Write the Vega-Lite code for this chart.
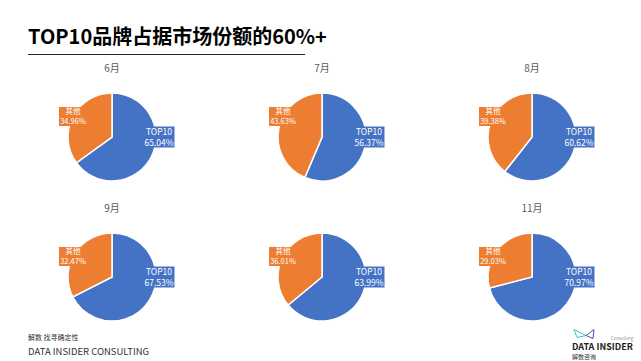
{
  "$schema": "https://vega.github.io/schema/vega-lite/v6.json",
  "background": "white",
  "padding": {"left": 28, "top": 28, "right": 0, "bottom": 0},
  "config": {
    "view": {"stroke": null},
    "font": "Noto Sans CJK SC"
  },
  "spacing": 9,
  "vconcat": [
    {
      "width": 277,
      "height": 1,
      "view": {"fill": "#262626", "stroke": null},
      "title": {
        "text": "TOP10品牌占据市场份额的60%+",
        "anchor": "start",
        "fontSize": 20,
        "fontWeight": "bold",
        "color": "#000000",
        "baseline": "alphabetic",
        "offset": -10,
        "font": "Noto Sans CJK SC"
      },
      "data": {"values": []},
      "mark": {"type": "rule"},
      "encoding": {}
    },
    {
      "spacing": 0,
      "vconcat": [
        {
          "data": {
            "values": [
              {"month": "6月", "name": "TOP10", "share": 0.6504},
              {"month": "6月", "name": "其他", "share": 0.3496},
              {"month": "7月", "name": "TOP10", "share": 0.5637},
              {"month": "7月", "name": "其他", "share": 0.4363},
              {"month": "8月", "name": "TOP10", "share": 0.6062},
              {"month": "8月", "name": "其他", "share": 0.3938},
              {"month": "9月", "name": "TOP10", "share": 0.6753},
              {"month": "9月", "name": "其他", "share": 0.3247},
              {"month": "10月", "name": "TOP10", "share": 0.6399},
              {"month": "10月", "name": "其他", "share": 0.3601},
              {"month": "11月", "name": "TOP10", "share": 0.7097},
              {"month": "11月", "name": "其他", "share": 0.2903}
            ]
          },
          "columns": 3,
          "spacing": {"column": 42, "row": 17},
          "facet": {
            "field": "month",
            "type": "nominal",
            "sort": ["6月", "7月", "8月", "9月", "10月", "11月"],
            "header": {
              "title": null,
              "labelFontSize": 10,
              "labelColor": "#595959",
              "labelPadding": 13,
              "labelExpr": "datum.value == '10月' ? '' : datum.value"
            }
          },
          "spec": {
            "width": 168,
            "height": 100,
            "layer": [
              {
                "mark": {"type": "arc", "outerRadius": 44, "stroke": "#ffffff", "strokeWidth": 1.5},
                "encoding": {
                  "theta": {"field": "share", "type": "quantitative", "stack": true},
                  "color": {
                    "field": "name",
                    "type": "nominal",
                    "scale": {"domain": ["TOP10", "其他"], "range": ["#4472C4", "#ED7D31"]},
                    "legend": null
                  },
                  "order": {"field": "name", "sort": "ascending"}
                }
              },
              {
                "mark": {"type": "point", "filled": true, "opacity": 1, "size": 4, "strokeWidth": 0},
                "encoding": {
                  "shape": {
                    "field": "name",
                    "type": "nominal",
                    "scale": {
                      "domain": ["TOP10", "其他"],
                      "range": ["M31.5,-10.5L62.5,-10.5L62.5,10.5L31.5,10.5Z", "M-53,-30L-25,-30L-25,-11L-53,-11Z"]
                    },
                    "legend": null
                  },
                  "color": {"field": "name", "type": "nominal", "legend": null}
                }
              },
              {
                "transform": [{"filter": "datum.name == 'TOP10'"}],
                "mark": {"type": "text", "dx": 47, "dy": -5, "fill": "#ffffff", "fontSize": 8.5, "baseline": "middle"},
                "encoding": {"text": {"field": "name"}}
              },
              {
                "transform": [{"filter": "datum.name == 'TOP10'"}],
                "mark": {"type": "text", "dx": 47, "dy": 5.5, "fill": "#ffffff", "fontSize": 8.5, "baseline": "middle"},
                "encoding": {"text": {"field": "share", "type": "quantitative", "format": ".2%"}}
              },
              {
                "transform": [{"filter": "datum.name == '其他'"}],
                "mark": {"type": "text", "dx": -39, "dy": -25.5, "fill": "#ffffff", "fontSize": 7.5, "baseline": "middle"},
                "encoding": {"text": {"field": "name"}}
              },
              {
                "transform": [{"filter": "datum.name == '其他'"}],
                "mark": {"type": "text", "dx": -39, "dy": -15.5, "fill": "#ffffff", "fontSize": 7.5, "baseline": "middle"},
                "encoding": {"text": {"field": "share", "type": "quantitative", "format": ".2%"}}
              }
            ]
          }
        },
        {
          "bounds": "flush",
          "spacing": 544,
          "hconcat": [
            {
              "width": 1,
              "height": 1,
              "data": {"values": []},
              "mark": {"type": "rule"},
              "encoding": {},
              "title": {
                "text": "解数 找寻确定性",
                "subtitle": "DATA INSIDER CONSULTING",
                "orient": "bottom",
                "anchor": "start",
                "fontSize": 7,
                "fontWeight": "normal",
                "color": "#333333",
                "subtitleFontSize": 9.5,
                "subtitleColor": "#333333",
                "subtitlePadding": 6,
                "offset": -7
              }
            },
            {
              "width": 22,
              "height": 9,
              "data": {"values": [{"brand": "Consulting"}]},
              "title": {
                "text": "DATA INSIDER",
                "subtitle": "解数咨询",
                "orient": "bottom",
                "anchor": "start",
                "fontSize": 9,
                "fontWeight": "bold",
                "color": "#222222",
                "subtitleFontSize": 6,
                "subtitleColor": "#333333",
                "subtitlePadding": 2,
                "offset": -6
              },
              "layer": [
                {
                  "mark": {"type": "point", "filled": false, "size": 4, "stroke": "#3CC6C8", "strokeWidth": 1, "opacity": 1, "shape": "M-10,-15L2,-9L-7,-7Z"},
                  "encoding": {}
                },
                {
                  "mark": {"type": "point", "filled": false, "size": 4, "stroke": "#5B3FB8", "strokeWidth": 1, "opacity": 1, "shape": "M2,-9L10,-15L9,-6Z"},
                  "encoding": {}
                },
                {
                  "mark": {"type": "text", "dx": 38, "dy": -6, "fontSize": 4.5, "fill": "#999999"},
                  "encoding": {"text": {"field": "brand"}}
                }
              ]
            }
          ]
        }
      ]
    }
  ]
}
